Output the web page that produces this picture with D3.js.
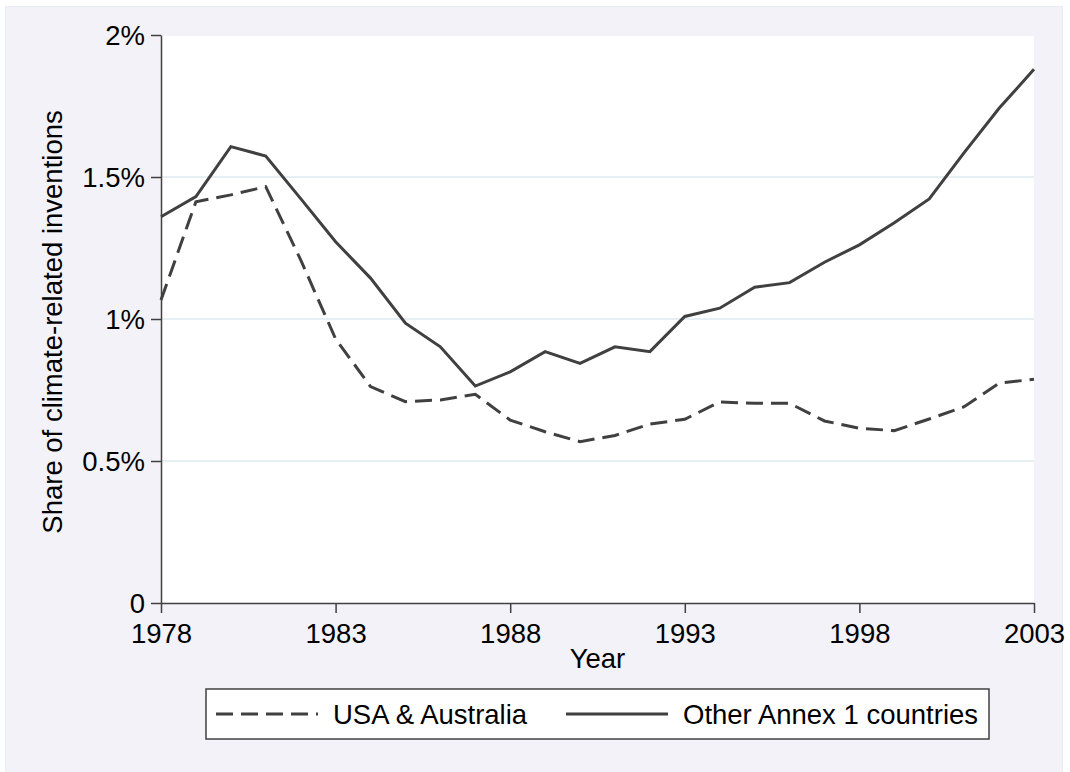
<!DOCTYPE html>
<html>
<head>
<meta charset="utf-8">
<script src="https://cdn.jsdelivr.net/npm/d3@7"></script>
<style>
  html, body { margin: 0; padding: 0; background: #ffffff; }
  svg { display: block; font-family: "Liberation Sans", Arial, sans-serif; }
</style>
</head>
<body>
<svg id="chart"></svg>
<script>
const years = d3.range(1978, 2004);

// share of climate-related inventions, in percent
const usaAustralia = [
    1.067, 1.413, 1.437, 1.466, 1.208, 0.930, 0.762, 0.709, 0.715, 0.735,
    0.644, 0.603, 0.568, 0.590, 0.630, 0.647, 0.708, 0.703, 0.703, 0.641,
    0.615, 0.607, 0.648, 0.691, 0.774, 0.788
];
const otherAnnex1 = [
    1.360, 1.431, 1.607, 1.574, 1.424, 1.272, 1.144, 0.985, 0.902, 0.764,
    0.814, 0.885, 0.844, 0.902, 0.885, 1.009, 1.038, 1.112, 1.128, 1.200,
    1.261, 1.339, 1.423, 1.586, 1.742, 1.879
];

const xTicks = [1978, 1983, 1988, 1993, 1998, 2003];
const yTicks = [0, 0.5, 1, 1.5, 2];
const yTickLabels = ["0", "0.5%", "1%", "1.5%", "2%"];

const seriesNames = ["USA & Australia", "Other Annex 1 countries"];

const WIDTH = 1070;
const HEIGHT = 772;
const PLOT = { left: 161, right: 1034, top: 35, bottom: 603 };
const INK = "#404040";
const FONT = 27.5;

const svg = d3.select("#chart")
    .attr("width", WIDTH)
    .attr("height", HEIGHT);

// outer graph region
svg.append("rect")
    .attr("x", 5.5).attr("y", 6.5)
    .attr("width", 1057).attr("height", 780)
    .attr("fill", "#f2f2f8")
    .attr("stroke", "#e8edf3")
    .attr("stroke-width", 1);

// plot region
svg.append("rect")
    .attr("x", PLOT.left).attr("y", PLOT.top + 1)
    .attr("width", PLOT.right - PLOT.left)
    .attr("height", PLOT.bottom - PLOT.top - 1)
    .attr("fill", "#ffffff");

const xScale = d3.scaleLinear()
    .domain([1978, 2003])
    .range([PLOT.left, PLOT.right]);
const yScale = d3.scaleLinear()
    .domain([0, 2])
    .range([PLOT.bottom, PLOT.top]);

// gridlines
svg.append("g")
    .selectAll("line")
    .data(yTicks.filter(d => d > 0 && d < 2))
    .join("line")
    .attr("x1", PLOT.left).attr("x2", PLOT.right)
    .attr("y1", d => yScale(d)).attr("y2", d => yScale(d))
    .attr("stroke", "#e6eff1")
    .attr("stroke-width", 2);

// axes
const yAxis = d3.axisLeft(yScale)
    .tickValues(yTicks)
    .tickFormat((d, i) => yTickLabels[i])
    .tickSize(10)
    .tickSizeOuter(0)
    .tickPadding(6);
const xAxis = d3.axisBottom(xScale)
    .tickValues(xTicks)
    .tickFormat(d3.format("d"))
    .tickSize(10)
    .tickSizeOuter(0)
    .tickPadding(10);

const gy = svg.append("g")
    .attr("transform", "translate(" + PLOT.left + ",0)")
    .call(yAxis);
const gx = svg.append("g")
    .attr("transform", "translate(0," + PLOT.bottom + ")")
    .call(xAxis);

[gx, gy].forEach(g => {
    g.select(".domain").attr("stroke", INK).attr("stroke-width", 1.5);
    g.selectAll(".tick line").attr("stroke", INK).attr("stroke-width", 1.5);
    g.selectAll(".tick text")
        .attr("fill", "#000")
        .style("font-size", FONT + "px")
        .style("font-family", "'Liberation Sans', Arial, sans-serif");
});
gy.selectAll(".tick text").attr("dy", "0.34em");

// axis titles
svg.append("text")
    .attr("x", (PLOT.left + PLOT.right) / 2)
    .attr("y", 668)
    .attr("text-anchor", "middle")
    .style("font-size", FONT + "px")
    .text("Year");
svg.append("text")
    .attr("transform", "translate(62," + ((PLOT.top + PLOT.bottom) / 2 + 3) + ") rotate(-90)")
    .attr("text-anchor", "middle")
    .style("font-size", FONT + "px")
    .text("Share of climate-related inventions");

// lines
const line = d3.line()
    .x((d, i) => xScale(years[i]))
    .y(d => yScale(d));

svg.append("path")
    .datum(usaAustralia)
    .attr("d", line)
    .attr("fill", "none")
    .attr("stroke", INK)
    .attr("stroke-width", 3)
    .attr("stroke-dasharray", "17,8");

svg.append("path")
    .datum(otherAnnex1)
    .attr("d", line)
    .attr("fill", "none")
    .attr("stroke", INK)
    .attr("stroke-width", 3);

// legend
const legend = svg.append("g");
legend.append("rect")
    .attr("x", 206).attr("y", 689)
    .attr("width", 783).attr("height", 50)
    .attr("fill", "#ffffff")
    .attr("stroke", INK)
    .attr("stroke-width", 1.5);

const legendItems = [
    { name: seriesNames[0], x0: 216, x1: 318, tx: 333, dash: "17,8" },
    { name: seriesNames[1], x0: 566, x1: 668, tx: 683, dash: null }
];
legendItems.forEach(it => {
    legend.append("line")
        .attr("x1", it.x0).attr("x2", it.x1)
        .attr("y1", 714).attr("y2", 714)
        .attr("stroke", INK)
        .attr("stroke-width", 3)
        .attr("stroke-dasharray", it.dash);
    legend.append("text")
        .attr("x", it.tx).attr("y", 724)
        .style("font-size", FONT + "px")
        .text(it.name);
});
</script>
</body>
</html>
